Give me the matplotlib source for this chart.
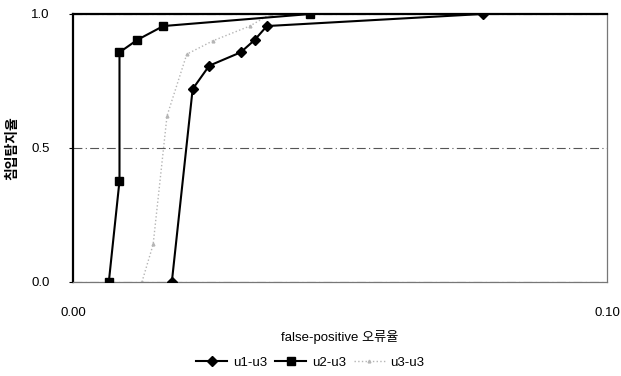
import matplotlib
matplotlib.use("Agg")
import matplotlib.pyplot as plt

plt.rcParams["font.family"] = ["Liberation Sans", "Noto Sans CJK KR"]

# false-positive rate vs detection rate
u1_fp = [0.0185, 0.0224, 0.0255, 0.0314, 0.0340, 0.0363, 0.0767]
u1_tp = [0.0, 0.72, 0.807, 0.857, 0.903, 0.955, 1.0]

u2_fp = [0.0067, 0.0087, 0.0087, 0.0120, 0.0169, 0.0444]
u2_tp = [0.0, 0.377, 0.857, 0.903, 0.955, 1.0]

u3_fp = [0.0129, 0.0150, 0.0176, 0.0213, 0.0262, 0.0331, 0.0370]
u3_tp = [0.0, 0.14, 0.62, 0.85, 0.90, 0.955, 1.0]

x_ticks = [0.0, 0.1]
x_ticklabels = ["0.00", "0.10"]
y_ticks = [0.0, 0.5, 1.0]
y_ticklabels = ["0.0", "0.5", "1.0"]

fig = plt.figure(figsize=(6.21, 3.76), dpi=100)
ax = fig.add_axes([0.1176, 0.25, 0.86, 0.7128])

ax.plot(u1_fp, u1_tp, "-D", color="black", lw=1.5, ms=5, label="u1-u3", zorder=3)
ax.plot(u2_fp, u2_tp, "-s", color="black", lw=1.5, ms=6, label="u2-u3", zorder=3)
ax.plot(u3_fp, u3_tp, ":", marker="^", color="#b5b5b5", lw=1.0, ms=2,
        label="u3-u3", zorder=2)

ax.set_xlim(0, 0.1)
ax.set_ylim(0, 1.0)
ax.set_xticks(x_ticks, x_ticklabels)
ax.set_yticks(y_ticks, y_ticklabels)
ax.tick_params(axis="x", length=0, pad=18, labelsize=9.5)
ax.tick_params(axis="y", length=3, pad=14, labelsize=9.5)

ax.yaxis.grid(True, color="#555555", lw=0.8, ls=(0, (8, 3, 1, 3)))
ax.set_axisbelow(True)

for side in ("left", "top"):
    ax.spines[side].set_color("black")
    ax.spines[side].set_linewidth(1.6)
for side in ("right", "bottom"):
    ax.spines[side].set_color("#777777")
    ax.spines[side].set_linewidth(0.9)

ax.set_xlabel("false-positive 오류율", fontsize=9.5, labelpad=8)
ax.set_ylabel("침입탐지율", fontsize=10, fontweight="bold", labelpad=8)

ax.legend(loc="center", bbox_to_anchor=(0.444, -0.30), ncol=3, frameon=False,
          fontsize=9.5, handlelength=2.4, columnspacing=0.6, handletextpad=0.4)

fig.savefig("out.png", dpi=100)
